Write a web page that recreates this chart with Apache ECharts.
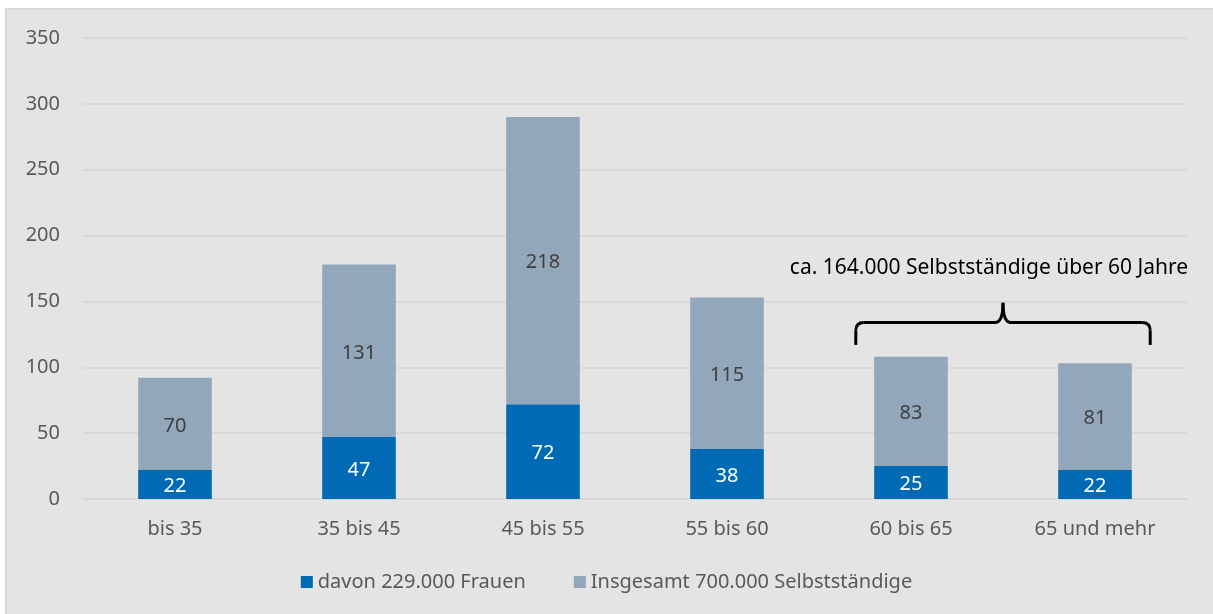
<!DOCTYPE html>
<html>
<head>
<meta charset="utf-8">
<script src="https://cdn.jsdelivr.net/npm/echarts@6/dist/echarts.min.js"></script>
<style>
  html, body { margin: 0; padding: 0; background: #fff; }
  #bg { position: absolute; left: 5px; top: 8px; width: 1208px; height: 606px;
        background: #e4e4e4; border-left: 2px solid #d8d8d8; border-top: 2px solid #d8d8d8; box-sizing: border-box; }
  #main { position: absolute; left: 0; top: 0; width: 1213px; height: 614px; }
</style>
</head>
<body>
<div id="bg"></div>
<div id="main"></div>
<script>
// Altersgruppen
var categories = ['bis 35', '35 bis 45', '45 bis 55', '55 bis 60', '60 bis 65', '65 und mehr'];
// Frauen (Tsd.)
var frauen = [22, 47, 72, 38, 25, 22];
// restliche Selbstständige (Tsd.), oben gestapelt
var insgesamtRest = [70, 131, 218, 115, 83, 81];
var seriesNames = ['davon 229.000 Frauen', 'Insgesamt 700.000 Selbstständige'];
var annotation = 'ca. 164.000 Selbstständige über 60 Jahre';

var font = 'Noto Sans';
var fs = 20;
var chartDom = document.getElementById('main');
var myChart = echarts.init(chartDom);

var option = {
    backgroundColor: 'transparent',
    animation: false,
    textStyle: { fontFamily: font },
    grid: { left: 83, right: 26, top: 38, bottom: 115 },
    legend: {
        bottom: 17,
        left: 'center',
        itemWidth: 12,
        itemHeight: 12,
        itemGap: 48,
        icon: 'rect',
        textStyle: { color: '#595959', fontSize: fs, fontFamily: font }
    },
    xAxis: {
        type: 'category',
        data: categories,
        axisLine: { lineStyle: { color: '#d6d6d6', width: 1.5 } },
        axisTick: { show: false },
        axisLabel: { color: '#595959', fontSize: fs, margin: 20 }
    },
    yAxis: {
        type: 'value',
        min: 0,
        max: 350,
        interval: 50,
        axisLine: { show: false },
        axisTick: { show: false },
        axisLabel: { color: '#595959', fontSize: fs, margin: 23 },
        splitLine: { lineStyle: { color: '#d6d6d6', width: 1.5 } }
    },
    series: [
        {
            name: seriesNames[0],
            type: 'bar',
            stack: 'a',
            barWidth: '40%',
            data: frauen,
            itemStyle: { color: '#006ab4' },
            label: { show: true, position: 'inside', color: '#ffffff', fontSize: fs, offset: [0, 2] }
        },
        {
            name: seriesNames[1],
            type: 'bar',
            stack: 'a',
            barWidth: '40%',
            data: insgesamtRest,
            itemStyle: { color: '#93a7bb' },
            label: { show: true, position: 'inside', color: '#404040', fontSize: fs, offset: [0, 2] }
        }
    ]
};
myChart.setOption(option);

// geschweifte Klammer über den letzten beiden Gruppen
var pL = myChart.convertToPixel({ seriesIndex: 0 }, [4, 117]);
var pR = myChart.convertToPixel({ seriesIndex: 0 }, [5, 117]);
var pMid = myChart.convertToPixel({ seriesIndex: 0 }, [4, 134]);
var pTop = myChart.convertToPixel({ seriesIndex: 0 }, [4, 149]);
var halfBand = (pR[0] - pL[0]) / 2;
var x1 = pL[0] - halfBand * 0.6;
var x2 = pR[0] + halfBand * 0.6;
var xm = (x1 + x2) / 2;
var yEnd = pL[1], yLine = pMid[1], yTop = pTop[1];
var r = 8;
var braceStyle = { fill: null, stroke: '#000', lineWidth: 3 };

myChart.setOption({
    graphic: [
        { type: 'line', shape: { x1: x1, y1: yEnd, x2: x1, y2: yLine + r }, style: braceStyle },
        { type: 'bezierCurve', shape: { x1: x1, y1: yLine + r, cpx1: x1, cpy1: yLine, x2: x1 + r, y2: yLine }, style: braceStyle },
        { type: 'line', shape: { x1: x1 + r, y1: yLine, x2: xm - r, y2: yLine }, style: braceStyle },
        { type: 'bezierCurve', shape: { x1: xm - r, y1: yLine, cpx1: xm, cpy1: yLine, x2: xm, y2: yTop }, style: braceStyle },
        { type: 'bezierCurve', shape: { x1: xm, y1: yTop, cpx1: xm, cpy1: yLine, x2: xm + r, y2: yLine }, style: braceStyle },
        { type: 'line', shape: { x1: xm + r, y1: yLine, x2: x2 - r, y2: yLine }, style: braceStyle },
        { type: 'bezierCurve', shape: { x1: x2 - r, y1: yLine, cpx1: x2, cpy1: yLine, x2: x2, y2: yLine + r }, style: braceStyle },
        { type: 'line', shape: { x1: x2, y1: yLine + r, x2: x2, y2: yEnd }, style: braceStyle },
        {
            type: 'text',
            x: xm - 14,
            y: yTop - 35,
            style: {
                text: annotation,
                fill: '#000',
                font: '21px "' + font + '"',
                textAlign: 'center',
                textVerticalAlign: 'middle'
            }
        }
    ]
});
</script>
</body>
</html>
